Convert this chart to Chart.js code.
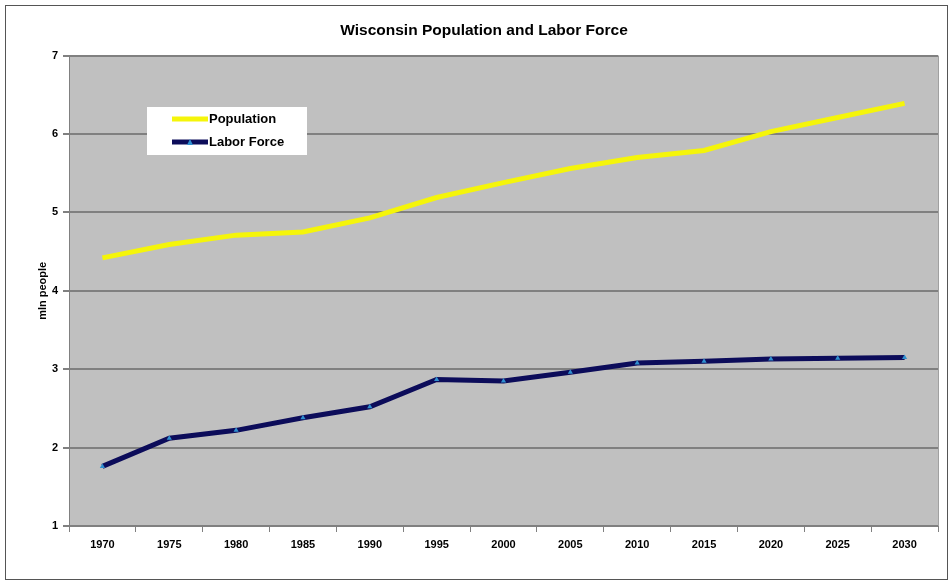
<!DOCTYPE html>
<html lang="en">
<head>
  <meta charset="UTF-8">
  <title>Wisconsin Population and Labor Force</title>
  <script src="https://cdn.jsdelivr.net/npm/chart.js"></script>
  <style>
    body { margin: 0; background: #fff; }
    .wrap { position: relative; width: 952px; height: 585px; }
  </style>
</head>
<body>
  <div class="wrap"><canvas id="wiChart" width="952" height="585"></canvas></div>

  <script>
    // data
    const years = ['1970', '1975', '1980', '1985', '1990', '1995', '2000', '2005', '2010', '2015', '2020', '2025', '2030'];
    const population = [4.42, 4.59, 4.71, 4.75, 4.93, 5.19, 5.38, 5.56, 5.70, 5.79, 6.03, 6.21, 6.39];
    const laborForce = [1.76, 2.12, 2.22, 2.38, 2.52, 2.87, 2.85, 2.96, 3.08, 3.10, 3.13, 3.14, 3.15];
    const yTicks = [1, 2, 3, 4, 5, 6, 7];

    const FONT = 'Liberation Sans, Arial, sans-serif';

    // outer frame + grey plot background
    const frame = {
      id: 'frame',
      beforeDraw(chart) {
        const { ctx, chartArea: a } = chart;
        ctx.save();
        ctx.fillStyle = '#fff';
        ctx.fillRect(0, 0, chart.width, chart.height);
        ctx.strokeStyle = '#555';
        ctx.lineWidth = 1;
        ctx.strokeRect(5.5, 5.5, 942, 574);
        ctx.fillStyle = '#c0c0c0';
        ctx.fillRect(a.left, a.top, a.right - a.left, a.bottom - a.top);
        ctx.strokeStyle = '#a0a0a0';
        ctx.beginPath();
        ctx.moveTo(a.right + 0.5, a.top);
        ctx.lineTo(a.right + 0.5, a.bottom);
        ctx.stroke();
        ctx.restore();
      }
    };

    // legend box inside the plot, like the original
    const boxLegend = {
      id: 'boxLegend',
      afterDraw(chart) {
        const ctx = chart.ctx;
        const x = 147, y = 107, w = 160, h = 48;
        ctx.save();
        ctx.fillStyle = '#fff';
        ctx.fillRect(x, y, w, h);
        ctx.font = 'bold 13px ' + FONT;
        ctx.textBaseline = 'middle';
        chart.data.datasets.forEach((ds, i) => {
          const ly = y + 12 + i * 23;
          ctx.strokeStyle = ds.borderColor;
          ctx.lineWidth = ds.borderWidth;
          ctx.beginPath();
          ctx.moveTo(x + 25, ly);
          ctx.lineTo(x + 61, ly);
          ctx.stroke();
          if (ds.pointRadius > 0) {
            ctx.fillStyle = ds.pointBackgroundColor;
            ctx.beginPath();
            ctx.moveTo(x + 43, ly - 3);
            ctx.lineTo(x + 46, ly + 3);
            ctx.lineTo(x + 40, ly + 3);
            ctx.closePath();
            ctx.fill();
          }
          ctx.fillStyle = '#000';
          ctx.fillText(ds.label, x + 62, ly);
        });
        ctx.restore();
      }
    };

    new Chart(document.getElementById('wiChart'), {
      type: 'line',
      data: {
        labels: years,
        datasets: [{
          label: 'Population',
          data: population,
          borderColor: '#f5f50a',
          backgroundColor: '#f5f50a',
          borderWidth: 5,
          pointRadius: 0,
          tension: 0
        }, {
          label: 'Labor Force',
          data: laborForce,
          borderColor: '#0c0c5a',
          backgroundColor: '#0c0c5a',
          borderWidth: 5,
          pointStyle: 'triangle',
          pointRadius: 3,
          pointBorderWidth: 0,
          pointBackgroundColor: '#2f8fd0',
          tension: 0
        }]
      },
      options: {
        responsive: false,
        animation: false,
        layout: { padding: { left: 30, right: 14, top: 0, bottom: 0 } },
        plugins: {
          legend: { display: false },
          tooltip: { enabled: false },
          title: {
            display: true,
            text: 'Wisconsin Population and Labor Force',
            color: '#000',
            font: { family: FONT, size: 15.5, weight: 'bold' },
            padding: { top: 21, bottom: 16 }
          }
        },
        scales: {
          x: {
            offset: true,
            grid: { offset: true, drawOnChartArea: false, color: '#808080', tickLength: 6, lineWidth: 1 },
            border: { color: '#808080', width: 1 },
            ticks: { color: '#000', font: { family: FONT, size: 11, weight: 'bold' }, padding: 6, maxRotation: 0 },
            afterFit(scale) { scale.height = 59; }
          },
          y: {
            min: 1,
            max: 7,
            afterBuildTicks(scale) { scale.ticks = yTicks.map(v => ({ value: v })); },
            grid: { color: '#808080', lineWidth: 2, tickLength: 6 },
            border: { color: '#808080', width: 1 },
            ticks: { color: '#000', font: { family: FONT, size: 11, weight: 'bold' }, padding: 5 },
            title: {
              display: true,
              text: 'mln people',
              color: '#000',
              font: { family: FONT, size: 11, weight: 'bold' },
              padding: { top: 6, bottom: 0 }
            },
            afterFit(scale) { scale.width = 39; }
          }
        }
      },
      plugins: [frame, boxLegend]
    });
  </script>
</body>
</html>
